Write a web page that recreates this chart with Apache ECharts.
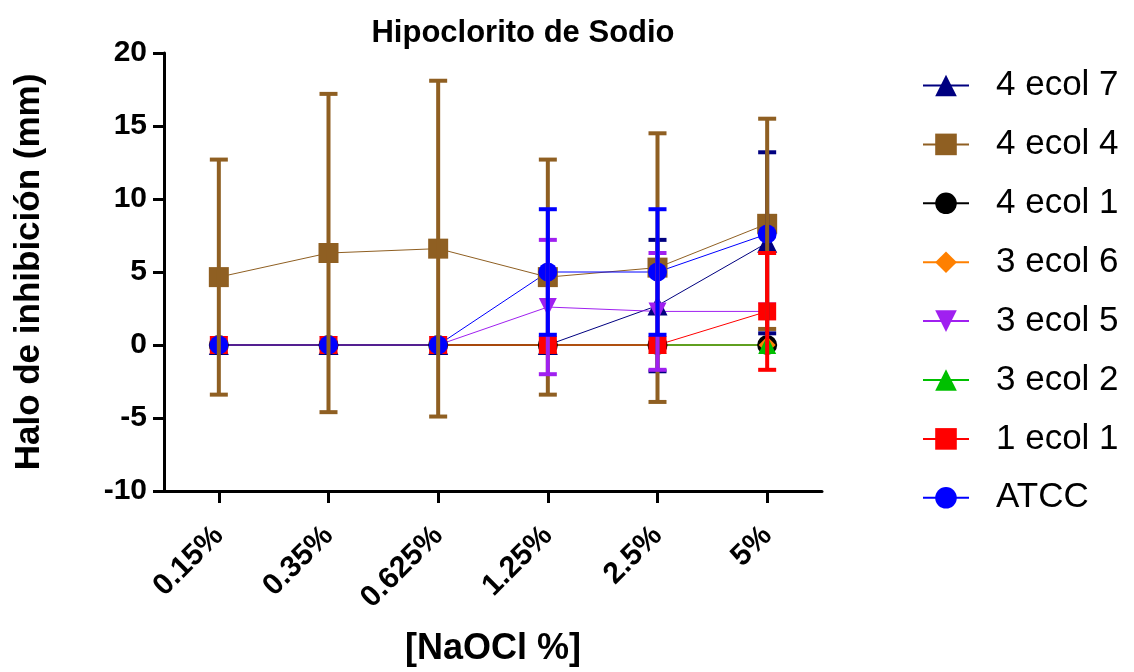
<!DOCTYPE html>
<html>
<head>
    <meta charset="utf-8">
    <title>Hipoclorito de Sodio</title>
    <script src="https://cdn.jsdelivr.net/npm/echarts@6/dist/echarts.min.js"></script>
    <style>
        html, body { margin: 0; padding: 0; background: #fff; }
    </style>
</head>
<body>
<div id="main" style="width: 1134px; height: 672px;"></div>
<script type="text/javascript">
    // concentrations (x categories)
    var categories = ['0.15%', '0.35%', '0.625%', '1.25%', '2.5%', '5%'];
    var yTicks = [-10, -5, 0, 5, 10, 15, 20];

    // mean / sd per strain
    var ecol7_4 = [0, 0, 0, 0, 2.7, 7.0];
    var ecol7_4_sd = [0, 0, 0, 0, 4.5, 6.2];
    var ecol4_4 = [4.65, 6.3, 6.6, 4.65, 5.3, 8.3];
    var ecol4_4_sd = [8.05, 10.9, 11.5, 8.05, 9.2, 7.2];
    var ecol1_4 = [0, 0, 0, 0, 0, 0];
    var ecol1_4_sd = [0, 0, 0, 0, 0, 0];
    var ecol6_3 = [0, 0, 0, 0, 0, 0];
    var ecol6_3_sd = [0, 0, 0, 0, 0, 0];
    var ecol5_3 = [0, 0, 0, 2.6, 2.3, 2.3];
    var ecol5_3_sd = [0, 0, 0, 4.6, 4.0, 0];
    var ecol2_3 = [0, 0, 0, 0, 0, 0];
    var ecol2_3_sd = [0, 0, 0, 0, 0, 0];
    var ecol1_1 = [0, 0, 0, 0, 0, 2.3];
    var ecol1_1_sd = [0, 0, 0, 0, 0, 4.0];
    var atcc = [0, 0, 0, 5.0, 5.0, 7.6];
    var atcc_sd = [0, 0, 0, 4.3, 4.3, 0];

    var strains = [
        { name: '4 ecol 7', mean: ecol7_4, sd: ecol7_4_sd, color: '#000080', symbol: 'triangle', size: 20, rot: 0 },
        { name: '4 ecol 4', mean: ecol4_4, sd: ecol4_4_sd, color: '#8F5F22', symbol: 'rect', size: 20, rot: 0 },
        { name: '4 ecol 1', mean: ecol1_4, sd: ecol1_4_sd, color: '#000000', symbol: 'circle', size: 20, rot: 0 },
        { name: '3 ecol 6', mean: ecol6_3, sd: ecol6_3_sd, color: '#FF8000', symbol: 'diamond', size: 17, rot: 0 },
        { name: '3 ecol 5', mean: ecol5_3, sd: ecol5_3_sd, color: '#A020F0', symbol: 'triangle', size: 18, rot: 180 },
        { name: '3 ecol 2', mean: ecol2_3, sd: ecol2_3_sd, color: '#00C000', symbol: 'triangle', size: 18, rot: 0 },
        { name: '1 ecol 1', mean: ecol1_1, sd: ecol1_1_sd, color: '#FF0000', symbol: 'rect', size: 18, rot: 0 },
        { name: 'ATCC', mean: atcc, sd: atcc_sd, color: '#0000FF', symbol: 'circle', size: 19, rot: 0 }
    ];

    var sans = "'Liberation Sans', Arial, sans-serif";

    function errorBars(color) {
        return function (params, api) {
            var sd = api.value(2);
            if (!sd) return;
            var i = api.value(0), m = api.value(1);
            var top = api.coord([i, m + sd]);
            var bot = api.coord([i, m - sd]);
            var hw = 9;
            var st = { stroke: color, lineWidth: 4 };
            return {
                type: 'group',
                children: [
                    { type: 'line', shape: { x1: top[0], y1: top[1], x2: bot[0], y2: bot[1] }, style: st },
                    { type: 'line', shape: { x1: top[0] - hw, y1: top[1], x2: top[0] + hw, y2: top[1] }, style: st },
                    { type: 'line', shape: { x1: bot[0] - hw, y1: bot[1], x2: bot[0] + hw, y2: bot[1] }, style: st }
                ]
            };
        };
    }

    var series = [];
    strains.forEach(function (s) {
        series.push({
            name: s.name,
            type: 'line',
            data: s.mean,
            symbol: s.symbol,
            symbolSize: s.size,
            symbolRotate: s.rot,
            showAllSymbol: true,
            z: 2,
            itemStyle: { color: s.color, opacity: 1 },
            lineStyle: { color: s.color, width: 1, opacity: 1 },
            emphasis: { disabled: true },
            animation: false
        });
    });
    strains.forEach(function (s) {
        series.push({
            name: s.name + ' sd',
            type: 'custom',
            z: 3,
            renderItem: errorBars(s.color),
            data: s.mean.map(function (m, i) { return [i, m, s.sd[i]]; }),
            encode: { x: 0, y: 1 },
            animation: false
        });
    });

    var myChart = echarts.init(document.getElementById('main'));
    myChart.setOption({
        backgroundColor: '#ffffff',
        title: {
            text: 'Hipoclorito de Sodio',
            left: 518,
            textAlign: 'center',
            top: 13,
            textStyle: { fontFamily: sans, fontWeight: 'bold', fontSize: 31, color: '#000' }
        },
        legend: {
            orient: 'vertical',
            left: 922,
            top: 68,
            padding: 0,
            itemWidth: 46,
            itemHeight: 27,
            itemGap: 23.9,
            data: strains.map(function (s) { return s.name; }),
            textStyle: { fontFamily: sans, fontSize: 35, lineHeight: 34, color: '#000', padding: [0, 0, 0, 22] }
        },
        grid: { left: 164, right: 312, top: 53, height: 440 },
        xAxis: {
            type: 'category',
            data: categories,
            name: '[NaOCl %]',
            nameLocation: 'middle',
            nameGap: 140,
            nameTextStyle: { fontFamily: sans, fontWeight: 'bold', fontSize: 36, color: '#000' },
            axisLine: { onZero: false, lineStyle: { color: '#000', width: 3 } },
            axisTick: { show: true, alignWithLabel: true, length: 12, lineStyle: { width: 3, color: '#000' } },
            axisLabel: { rotate: 45, margin: 40, fontFamily: sans, fontWeight: 'bold', fontSize: 30, color: '#000' },
            splitLine: { show: false }
        },
        yAxis: {
            type: 'value',
            min: yTicks[0],
            max: yTicks[yTicks.length - 1],
            interval: 5,
            name: 'Halo de inhibición (mm)',
            nameLocation: 'middle',
            nameGap: 117,
            nameTextStyle: { fontFamily: sans, fontWeight: 'bold', fontSize: 35, color: '#000' },
            axisLine: { show: true, lineStyle: { color: '#000', width: 3 } },
            axisTick: { show: true, length: 11, lineStyle: { width: 3, color: '#000' } },
            axisLabel: { margin: 17, fontFamily: sans, fontWeight: 'bold', fontSize: 30, color: '#000' },
            splitLine: { show: false }
        },
        series: series
    });
</script>
</body>
</html>
